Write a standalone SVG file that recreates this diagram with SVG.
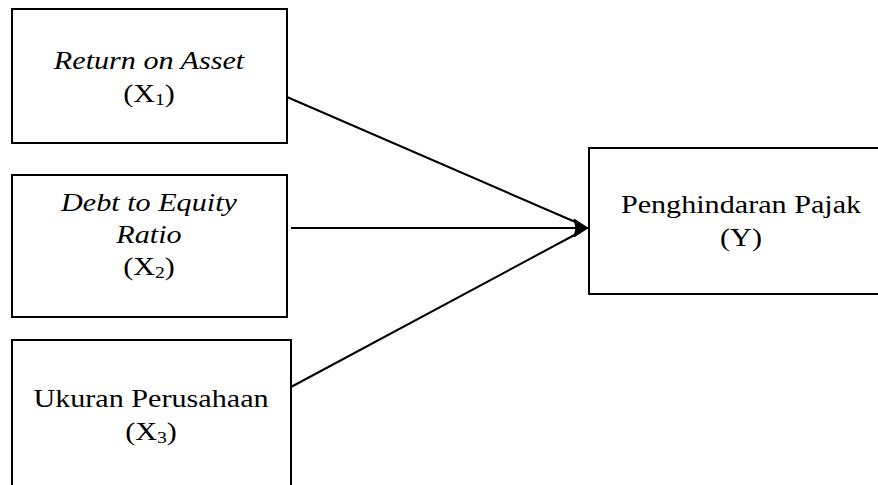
<svg xmlns="http://www.w3.org/2000/svg" width="878" height="485" viewBox="0 0 878 485">
<style>
.box{fill:#fff;stroke:#000;stroke-width:2}
.lbl{font-family:"Liberation Serif","Times New Roman",serif;font-size:26px;fill:#000;text-anchor:middle}
.it{font-style:italic}
.sub{font-size:17px}
.con{stroke:#000;stroke-width:2;fill:none}
</style>
<defs>
<marker id="arr" markerUnits="userSpaceOnUse" markerWidth="18" markerHeight="22" refX="15" refY="11" orient="auto">
<path d="M1,2 L15,11 L1,20 L3,11 z" fill="#000" stroke="#000" stroke-width="1"/>
</marker>
</defs>
<rect width="878" height="485" fill="#fff"/>
<g id="connectors">
<line class="con" x1="287" y1="97" x2="580" y2="224"/>
<line class="con" x1="291" y1="387" x2="580" y2="232"/>
<line class="con" x1="291" y1="228" x2="588" y2="228" marker-end="url(#arr)"/>
</g>
<g id="x1">
<rect class="box" x="12" y="9" width="275" height="134"/>
<text class="lbl it" transform="translate(149 69) scale(1.16 1)">Return on Asset</text>
<text class="lbl" transform="translate(149 102) scale(1.16 1)">(X<tspan class="sub" dy="3">1</tspan><tspan dy="-3">)</tspan></text>
</g>
<g id="x2">
<rect class="box" x="12" y="175" width="275" height="142"/>
<text class="lbl it" transform="translate(149 211) scale(1.16 1)">Debt to Equity</text>
<text class="lbl it" transform="translate(149 243) scale(1.16 1)">Ratio</text>
<text class="lbl" transform="translate(149 275) scale(1.16 1)">(X<tspan class="sub" dy="3">2</tspan><tspan dy="-3">)</tspan></text>
</g>
<g id="x3">
<rect class="box" x="12" y="340" width="279" height="160"/>
<text class="lbl" transform="translate(151 407) scale(1.16 1)">Ukuran Perusahaan</text>
<text class="lbl" transform="translate(151 440) scale(1.16 1)">(X<tspan class="sub" dy="3">3</tspan><tspan dy="-3">)</tspan></text>
</g>
<g id="y">
<rect class="box" x="589" y="148" width="310" height="146"/>
<text class="lbl" transform="translate(741 213) scale(1.16 1)">Penghindaran Pajak</text>
<text class="lbl" transform="translate(741 246) scale(1.16 1)">(Y)</text>
</g>
</svg>
